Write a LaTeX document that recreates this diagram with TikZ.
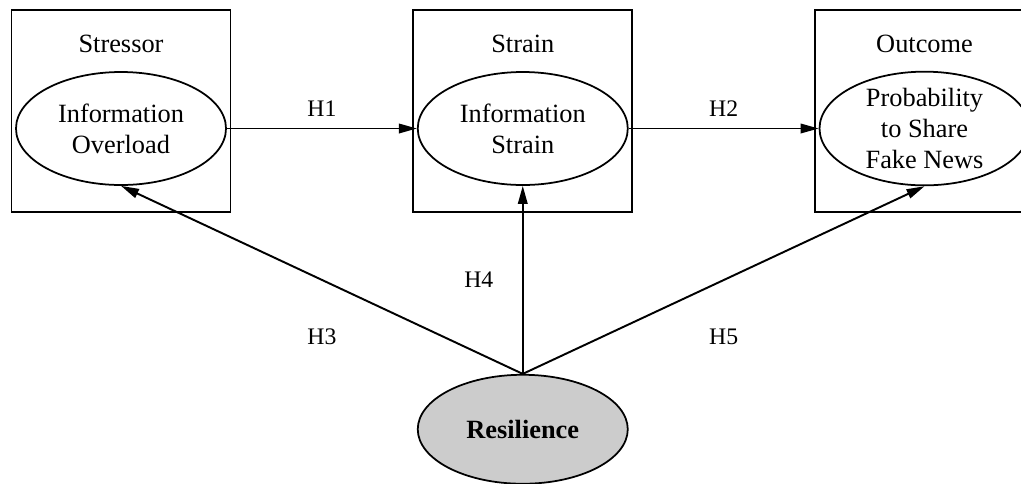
\documentclass[tikz,border=0pt]{standalone}
\usepackage{fontspec}
\setmainfont{Liberation Serif}
\usepackage{tikz}
\usetikzlibrary{arrows.meta, positioning, shapes.geometric}

\begin{document}
\begin{tikzpicture}[
    construct/.style={ellipse, draw, line width=1pt, minimum width=4.2cm, minimum height=2.26cm, inner sep=0pt, align=center, font=\fontsize{15}{17.6}\selectfont},
    stagebox/.style={rectangle, draw, line width=1pt, minimum width=4.38cm, minimum height=4.04cm},
    stagetitle/.style={font=\fontsize{15}{18}\selectfont},
    arrow/.style={-{Triangle[length=3.6mm, width=1.9mm]}, line width=1.1pt},
    hyp/.style={font=\fontsize{13.5}{16}\selectfont}
]
\useasboundingbox (0,0) rectangle (20.42,-9.66);

% Constructs in a row
\node[construct] (overload) at (2.42,-2.57) {Information\\Overload};
\node[construct, right=3.8cm of overload] (strain) {Information\\Strain};
\node[construct, right=3.8cm of strain] (fakenews) {Probability\\to Share\\Fake News};

% Moderator
\node[construct, fill=gray!40, minimum height=2.18cm, below=3.76cm of strain, font=\fontsize{15}{18}\selectfont\bfseries] (resilience) {Resilience};

% Stage boxes around the constructs
\node[stagebox] (stressorbox) at ([yshift=0.35cm]overload.center) {};
\node[stagebox] (strainbox) at ([yshift=0.35cm]strain.center) {};
\node[stagebox] (outcomebox) at ([yshift=0.35cm]fakenews.center) {};

\node[stagetitle] (stressortitle) at ([yshift=-0.7cm]stressorbox.north) {Stressor};
\node[stagetitle] (straintitle) at ([yshift=-0.7cm]strainbox.north) {Strain};
\node[stagetitle] (outcometitle) at ([yshift=-0.7cm]outcomebox.north) {Outcome};

% Main path
\draw[arrow] (overload.east) -- node[hyp, yshift=0.4cm] {H1} (strain.west);
\draw[arrow] (strain.east) -- node[hyp, yshift=0.4cm] {H2} (fakenews.west);

% Resilience paths
\draw[arrow] (resilience.north) -- node[hyp, yshift=-1.13cm] {H3} (overload.south);
\draw[arrow] (resilience.north) -- node[hyp, xshift=-0.88cm] {H4} (strain.south);
\draw[arrow] (resilience.north) -- node[hyp, yshift=-1.13cm] {H5} (fakenews.south);

\end{tikzpicture}
\end{document}
